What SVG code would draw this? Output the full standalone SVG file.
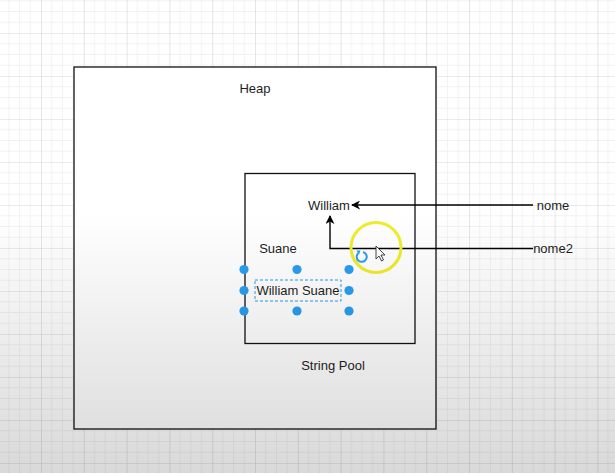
<svg xmlns="http://www.w3.org/2000/svg" width="615" height="473" viewBox="0 0 615 473">
<defs>
<style>
.lbl{font-family:"Liberation Sans",Arial,Helvetica,sans-serif;font-size:13px;fill:#1e1e1e;text-anchor:middle;dominant-baseline:central}
.box{fill:none;stroke:#111;stroke-width:1.3}
.edge{fill:none;stroke:#000;stroke-width:1.4}
.handle{fill:#2a9ef0}
</style>
<pattern id="grid" patternUnits="userSpaceOnUse" x="41" y="33" width="42.8" height="43">
<path d="M10.7 0V43M21.4 0V43M32.1 0V43M0 10.75H42.8M0 21.5H42.8M0 32.25H42.8" stroke="#f2f2f2" stroke-width="1" fill="none"/>
<path d="M0 0V43M0 0H42.8" stroke="#d6d6d6" stroke-width="1.2" fill="none"/>
</pattern>
<linearGradient id="shade" x1="0" y1="0" x2="0" y2="1">
<stop offset="0" stop-color="#000" stop-opacity="0"/>
<stop offset="0.45" stop-color="#000" stop-opacity="0"/>
<stop offset="1" stop-color="#000" stop-opacity="0.15"/>
</linearGradient>
<marker id="arr" viewBox="0 0 10 10" refX="9" refY="5" markerWidth="9" markerHeight="9" orient="auto" markerUnits="userSpaceOnUse">
<path d="M0 0L10 5L0 10L3 5Z" fill="#000"/>
</marker>
</defs>
<rect width="615" height="473" fill="#fff"/>
<rect width="615" height="473" fill="url(#grid)"/>

<g id="heap">
<rect x="74" y="67" width="362" height="362" fill="#fff" stroke="#222" stroke-width="1.4"/>
<text class="lbl" x="255" y="88">Heap</text>
</g>
<g id="string-pool">
<rect class="box" x="245" y="173.5" width="170" height="170"/>
<text class="lbl" x="333" y="365">String Pool</text>
</g>
<g id="william">
<text class="lbl" x="329" y="205">William</text>
</g>
<g id="suane">
<text class="lbl" x="278" y="248">Suane</text>
</g>
<g id="william-suane">
<rect x="255" y="280" width="86" height="21" fill="none" stroke="#2a9ef0" stroke-width="1" stroke-dasharray="3 2"/>
<text class="lbl" x="298" y="290.5">William Suane</text>
<circle class="handle" cx="244" cy="269.5" r="4.6"/>
<circle class="handle" cx="297" cy="269.5" r="4.6"/>
<circle class="handle" cx="349" cy="269.5" r="4.6"/>
<circle class="handle" cx="244" cy="290.5" r="4.6"/>
<circle class="handle" cx="349" cy="290.5" r="4.6"/>
<circle class="handle" cx="244" cy="311" r="4.6"/>
<circle class="handle" cx="297" cy="311" r="4.6"/>
<circle class="handle" cx="349" cy="311" r="4.6"/>
</g>
<g id="nome">
<text class="lbl" x="553" y="205">nome</text>
</g>
<g id="nome2">
<text class="lbl" x="553" y="248">nome2</text>
</g>

<g id="connectors">
<path class="edge" d="M533 205H352" marker-end="url(#arr)"/>
<path class="edge" d="M533 248.5H330V216" marker-end="url(#arr)"/>
</g>

<g id="overlay">
<circle cx="376" cy="247.5" r="25" fill="none" stroke="#f0ec2c" stroke-width="3"/>
<path d="M358.5 253A5 5 0 1 0 363 252" fill="none" stroke="#2a9ef0" stroke-width="2"/>
<path d="M356.5 250.5L360.5 250.5L359 254.5Z" fill="#2a9ef0"/>
<path d="M376 246L376 259L379 256L381.5 261L383.5 260L381 255L385 255Z" fill="#fff" stroke="#333" stroke-width="0.9" stroke-linejoin="round"/>
</g>
<rect width="615" height="473" fill="url(#shade)"/>
</svg>
